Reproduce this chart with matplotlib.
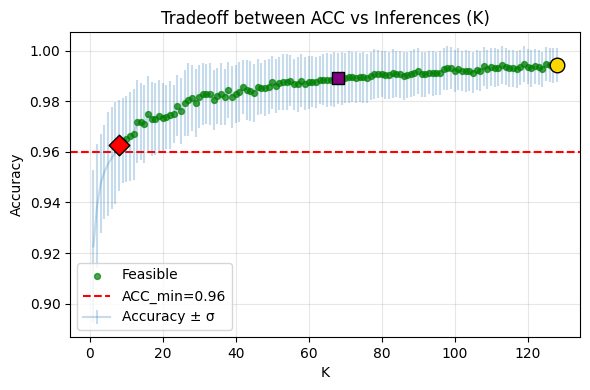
import numpy as np
import matplotlib
matplotlib.use("Agg")
import matplotlib.pyplot as plt

# accuracy per number of inferences K (mean and std over runs)
K = np.arange(1, 129)

acc_mean = [
    0.9226, 0.9385, 0.9475, 0.9520, 0.9552, 0.9576, 0.9596, 0.9626, 0.9645, 0.9652,
    0.9662, 0.9669, 0.9720, 0.9720, 0.9711, 0.9751, 0.9730, 0.9730, 0.9743, 0.9735,
    0.9738, 0.9747, 0.9751, 0.9782, 0.9763, 0.9793, 0.9806, 0.9813, 0.9793, 0.9819,
    0.9829, 0.9829, 0.9829, 0.9806, 0.9822, 0.9829, 0.9817, 0.9844, 0.9817, 0.9829,
    0.9836, 0.9856, 0.9845, 0.9842, 0.9832, 0.9856, 0.9852, 0.9852, 0.9858, 0.9875,
    0.9861, 0.9871, 0.9875, 0.9878, 0.9882, 0.9867, 0.9867, 0.9882, 0.9869, 0.9875,
    0.9878, 0.9875, 0.9884, 0.9886, 0.9884, 0.9885, 0.9887, 0.9891, 0.9890, 0.9893,
    0.9897, 0.9897, 0.9893, 0.9895, 0.9895, 0.9891, 0.9901, 0.9908, 0.9908, 0.9908,
    0.9904, 0.9904, 0.9911, 0.9908, 0.9907, 0.9900, 0.9904, 0.9908, 0.9914, 0.9920,
    0.9907, 0.9907, 0.9914, 0.9911, 0.9911, 0.9914, 0.9927, 0.9931, 0.9931, 0.9920,
    0.9927, 0.9920, 0.9920, 0.9920, 0.9914, 0.9924, 0.9920, 0.9938, 0.9926, 0.9934,
    0.9933, 0.9933, 0.9943, 0.9937, 0.9930, 0.9930, 0.9926, 0.9934, 0.9948, 0.9937,
    0.9930, 0.9939, 0.9934, 0.9926, 0.9948, 0.9943, 0.9940, 0.9944,
]

acc_std = [
    0.0303, 0.0245, 0.0195, 0.0185, 0.0205, 0.0200, 0.0200, 0.0180, 0.0168, 0.0170,
    0.0176, 0.0180, 0.0165, 0.0152, 0.0155, 0.0148, 0.0147, 0.0144, 0.0140, 0.0137,
    0.0127, 0.0135, 0.0114, 0.0121, 0.0131, 0.0132, 0.0145, 0.0132, 0.0133, 0.0125,
    0.0121, 0.0118, 0.0121, 0.0118, 0.0111, 0.0121, 0.0111, 0.0110, 0.0124, 0.0114,
    0.0118, 0.0108, 0.0118, 0.0118, 0.0114, 0.0111, 0.0101, 0.0111, 0.0108, 0.0105,
    0.0108, 0.0105, 0.0111, 0.0111, 0.0101, 0.0101, 0.0108, 0.0105, 0.0105, 0.0105,
    0.0101, 0.0101, 0.0095, 0.0101, 0.0106, 0.0104, 0.0108, 0.0102, 0.0106, 0.0100,
    0.0103, 0.0099, 0.0101, 0.0097, 0.0100, 0.0098, 0.0096, 0.0099, 0.0094, 0.0092,
    0.0095, 0.0093, 0.0096, 0.0091, 0.0094, 0.0095, 0.0092, 0.0090, 0.0093, 0.0091,
    0.0088, 0.0090, 0.0086, 0.0089, 0.0085, 0.0087, 0.0084, 0.0086, 0.0082, 0.0085,
    0.0083, 0.0080, 0.0082, 0.0079, 0.0081, 0.0078, 0.0080, 0.0077, 0.0079, 0.0075,
    0.0078, 0.0074, 0.0075, 0.0073, 0.0075, 0.0072, 0.0074, 0.0071, 0.0070, 0.0070,
    0.0072, 0.0069, 0.0071, 0.0068, 0.0068, 0.0067, 0.0069, 0.0068,
]

ACC_MIN = 0.96
K_KNEE = 68

acc_mean = np.array(acc_mean)
acc_std = np.array(acc_std)

feasible = acc_mean >= ACC_MIN
k_min = K[feasible][0]
k_max = K[-1]

plt.figure(figsize=(5.9, 3.9), dpi=100)

plt.scatter(K[feasible], acc_mean[feasible], color="green", s=18, alpha=0.7,
            label="Feasible", zorder=3)
plt.axhline(ACC_MIN, color="red", linestyle="--", label="ACC_min=%.2f" % ACC_MIN)
plt.errorbar(K, acc_mean, yerr=acc_std, alpha=0.25, label="Accuracy ± σ", zorder=2)

# highlighted points
plt.scatter([k_min], [acc_mean[K == k_min][0]], marker="D", s=110, color="red",
            edgecolor="black", zorder=5)
plt.scatter([K_KNEE], [acc_mean[K == K_KNEE][0]], marker="s", s=80, color="purple",
            edgecolor="black", zorder=5)
plt.scatter([k_max], [acc_mean[K == k_max][0]], marker="o", s=110, color="gold",
            edgecolor="black", zorder=5)

plt.title("Tradeoff between ACC vs Inferences (K)")
plt.xlabel("K")
plt.ylabel("Accuracy")
plt.grid(alpha=0.3)
plt.legend(loc="lower left")
plt.subplots_adjust(left=0.119, right=0.983, top=0.917, bottom=0.136)
plt.savefig("out.png")
